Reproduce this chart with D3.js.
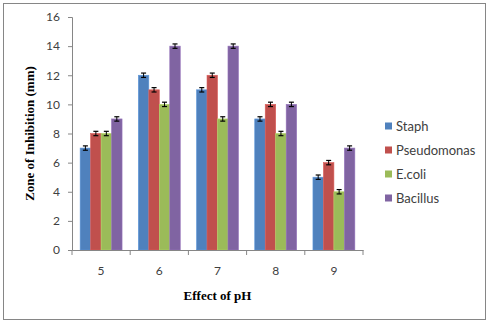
<!DOCTYPE html>
<html>
<head>
<meta charset="utf-8">
<script src="https://cdn.jsdelivr.net/npm/d3@7"></script>
<style>
  body { margin: 0; background: #fff; }
  svg { display: block; }
  .tick text { font-family: Lato, "Open Sans", sans-serif; font-size: 12px; fill: #404040; }
</style>
</head>
<body>
<div id="chart"></div>
<script>
// data
const categories = ['5', '6', '7', '8', '9'];
const seriesNames = ['Staph', 'Pseudomonas', 'E.coli', 'Bacillus'];
const staph = [7, 12, 11, 9, 5];
const pseudomonas = [8, 11, 12, 10, 6];
const ecoli = [8, 10, 9, 8, 4];
const bacillus = [9, 14, 14, 10, 7];
const errorSize = 0.15;
const yTicks = [0, 2, 4, 6, 8, 10, 12, 14, 16];

const colors = ['#4F81BD', '#C0504D', '#9BBB59', '#8064A2'];
const seriesValues = [staph, pseudomonas, ecoli, bacillus];

const W = 488, H = 323;
const margin = {top: 17, right: 125, bottom: 73, left: 72};
const width = W - margin.left - margin.right;
const height = H - margin.top - margin.bottom;

const svg = d3.select('#chart').append('svg')
  .attr('width', W)
  .attr('height', H);

// outer frame
svg.append('rect')
  .attr('x', 3.5).attr('y', 3.5)
  .attr('width', 482).attr('height', 316)
  .attr('fill', '#fff')
  .attr('stroke', '#868686');

const g = svg.append('g')
  .attr('transform', `translate(${margin.left},${margin.top})`);

const x = d3.scaleBand()
  .domain(categories)
  .range([0, width])
  .paddingInner(0.28)
  .paddingOuter(0.14);

const xSub = d3.scaleBand()
  .domain(seriesNames)
  .range([0, x.bandwidth()]);

const y = d3.scaleLinear()
  .domain([0, 16])
  .range([height, 0]);

// y axis
const yAxis = g.append('g')
  .call(d3.axisLeft(y).tickValues(yTicks).tickSize(4).tickPadding(8));
yAxis.select('.domain').attr('stroke', '#868686');
yAxis.selectAll('.tick line').attr('stroke', '#868686');

// bars
const rows = categories.map((c, i) => ({cat: c, vals: seriesValues.map((s, j) => ({name: seriesNames[j], v: s[i], k: j}))}));

const groups = g.selectAll('.grp')
  .data(rows)
  .enter().append('g')
  .attr('class', 'grp')
  .attr('transform', d => `translate(${x(d.cat)},0)`);

groups.selectAll('rect')
  .data(d => d.vals)
  .enter().append('rect')
  .attr('x', d => xSub(d.name))
  .attr('y', d => y(d.v))
  .attr('width', xSub.bandwidth())
  .attr('height', d => height - y(d.v))
  .attr('fill', d => colors[d.k])
  .attr('stroke', d => d3.color(colors[d.k]).brighter(0.4))
  .attr('stroke-width', 0.6);

// error bars
const eb = groups.selectAll('.err')
  .data(d => d.vals)
  .enter().append('g')
  .attr('class', 'err')
  .attr('transform', d => `translate(${xSub(d.name) + xSub.bandwidth() / 2},0)`);

eb.append('line')
  .attr('y1', d => y(d.v + errorSize))
  .attr('y2', d => y(d.v - errorSize))
  .attr('stroke', '#000').attr('stroke-width', 1);
eb.append('line')
  .attr('x1', -2.5).attr('x2', 2.5)
  .attr('y1', d => y(d.v + errorSize)).attr('y2', d => y(d.v + errorSize))
  .attr('stroke', '#000').attr('stroke-width', 1.2);
eb.append('line')
  .attr('x1', -2.5).attr('x2', 2.5)
  .attr('y1', d => y(d.v - errorSize)).attr('y2', d => y(d.v - errorSize))
  .attr('stroke', '#000').attr('stroke-width', 1.2);

// x axis with ticks between categories
const xAxis = g.append('g')
  .attr('transform', `translate(0,${height})`)
  .call(d3.axisBottom(x).tickSize(0).tickPadding(16));
xAxis.select('.domain').attr('stroke', '#868686');
const step = x.step();
xAxis.selectAll('.sep')
  .data(d3.range(categories.length + 1))
  .enter().append('line')
  .attr('x1', i => i * step).attr('x2', i => i * step)
  .attr('y1', 0).attr('y2', 5)
  .attr('stroke', '#868686');

// axis titles
g.append('text')
  .attr('x', width / 2)
  .attr('y', height + 50)
  .attr('text-anchor', 'middle')
  .style('font-family', '"Liberation Serif", "Times New Roman", serif')
  .style('font-weight', 'bold')
  .style('font-size', '13px')
  .text('Effect of pH');

g.append('text')
  .attr('transform', `translate(${29 - margin.left},${height / 2}) rotate(-90)`)
  .attr('text-anchor', 'middle')
  .attr('dy', '0.35em')
  .style('font-family', '"Liberation Serif", "Times New Roman", serif')
  .style('font-weight', 'bold')
  .style('font-size', '13px')
  .text('Zone of Inhibition (mm)');

// legend
const legend = svg.append('g')
  .attr('transform', 'translate(385,126)');
const li = legend.selectAll('.li')
  .data(seriesNames)
  .enter().append('g')
  .attr('transform', (d, i) => `translate(0,${i * 24})`);
li.append('rect')
  .attr('x', 0).attr('y', -3.5)
  .attr('width', 7).attr('height', 7)
  .attr('fill', (d, i) => colors[i]);
li.append('text')
  .attr('x', 11)
  .attr('dy', '0.35em')
  .style('font-family', 'Lato, "Open Sans", sans-serif')
  .style('font-size', '13px')
  .style('fill', '#404040')
  .text(d => d);
</script>
</body>
</html>
